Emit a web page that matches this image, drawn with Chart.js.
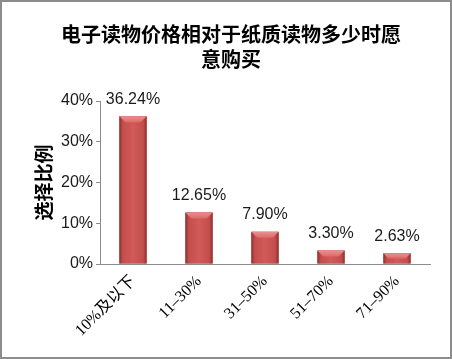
<!DOCTYPE html>
<html><head><meta charset="utf-8">
<script src="https://cdn.jsdelivr.net/npm/chart.js@4"></script>
<style>html,body{margin:0;padding:0;background:#fff}#w{width:452px;height:359px}</style>
</head><body><div id="w"><canvas id="c" width="452" height="359"></canvas></div>
<script>
const categories = ["10%及以下", "11–30%", "31–50%", "51–70%", "71–90%"];
const values = [36.24, 12.65, 7.90, 3.30, 2.63];
const valueLabels = ["36.24%", "12.65%", "7.90%", "3.30%", "2.63%"];
const yTicks = [0, 10, 20, 30, 40];
const titleLines = ["电子读物价格相对于纸质读物多少时愿", "意购买"];
const yTitle = "选择比例";

const frame = {
  id: 'frame',
  beforeDraw(chart) {
    const ctx = chart.ctx;
    ctx.save();
    ctx.fillStyle = '#fff';
    ctx.fillRect(0, 0, chart.width, chart.height);
    ctx.restore();
  },
  afterDraw(chart) {
    const ctx = chart.ctx;
    ctx.save();
    ctx.strokeStyle = '#8c8c8c';
    ctx.lineWidth = 2;
    ctx.strokeRect(1, 1, chart.width - 2, chart.height - 2);
    ctx.restore();
  }
};

const barStyle = {
  id: 'barStyle',
  afterDatasetsDraw(chart) {
    const ctx = chart.ctx;
    const meta = chart.getDatasetMeta(0);
    ctx.save();
    meta.data.forEach((bar, i) => {
      const l = bar.x - bar.width / 2, r = bar.x + bar.width / 2;
      const t = bar.y, b = bar.base;
      const g = ctx.createLinearGradient(l, 0, r, 0);
      g.addColorStop(0, '#8e2e2c');
      g.addColorStop(0.12, '#c24e4c');
      g.addColorStop(0.5, '#d25a59');
      g.addColorStop(0.88, '#c24e4c');
      g.addColorStop(1, '#8e2e2c');
      ctx.fillStyle = g;
      ctx.fillRect(l, t, r - l, b - t);
      // top bevel
      const bv = Math.min(6, (b - t) / 2);
      const g2 = ctx.createLinearGradient(0, t, 0, t + bv);
      g2.addColorStop(0, '#e89090');
      g2.addColorStop(1, '#dc6a69');
      ctx.beginPath();
      ctx.moveTo(l, t); ctx.lineTo(r, t); ctx.lineTo(r - bv, t + bv); ctx.lineTo(l + bv, t + bv); ctx.closePath();
      ctx.fillStyle = g2;
      ctx.fill();
      // label
      ctx.fillStyle = '#1a1a1a';
      ctx.font = '16px "Liberation Sans", Arial, sans-serif';
      ctx.textAlign = 'center';
      ctx.textBaseline = 'middle';
      ctx.fillText(valueLabels[i], bar.x, t - 17);
    });
    ctx.restore();
  }
};

new Chart(document.getElementById('c'), {
  type: 'bar',
  data: {
    labels: categories,
    datasets: [{
      data: values,
      backgroundColor: '#c24e4c',
      barPercentage: 0.75,
      categoryPercentage: 0.55
    }]
  },
  options: {
    responsive: false,
    animation: false,
    devicePixelRatio: 1,
    layout: { padding: { left: 32, right: 22, top: 0, bottom: 10 } },
    plugins: {
      legend: { display: false },
      tooltip: { enabled: false },
      title: {
        display: true,
        text: titleLines,
        color: '#000',
        font: { family: '"Noto Sans CJK SC", sans-serif', size: 20, weight: 'bold', lineHeight: 1.25 },
        padding: { top: 22, bottom: 29 }
      }
    },
    scales: {
      x: {
        grid: { display: false, drawTicks: false },
        border: { display: true, color: '#8c8c8c', width: 1 },
        ticks: {
          minRotation: 45, maxRotation: 45,
          color: '#000',
          padding: 8,
          font: { family: '"Liberation Serif", "Noto Sans CJK SC", serif', size: 16 }
        },
        afterFit(s) { s.height = 85; }
      },
      y: {
        min: 0, max: 40,
        afterBuildTicks(s) { s.ticks = yTicks.map(v => ({ value: v })); },
        grid: { display: true, drawOnChartArea: false, drawTicks: true, tickLength: 4, color: '#8c8c8c' },
        border: { display: true, color: '#8c8c8c', width: 1 },
        ticks: {
          color: '#1a1a1a',
          padding: 3,
          font: { family: '"Liberation Sans", Arial, sans-serif', size: 16 },
          callback: v => v + '%'
        },
        title: {
          display: true,
          text: yTitle,
          color: '#000',
          font: { family: '"Noto Sans CJK SC", serif', size: 19, weight: 'bold' },
          padding: { top: 0, bottom: 0 }
        },
        afterFit(s) { s.width = 68; }
      }
    }
  },
  plugins: [frame, barStyle]
});
</script>
</body></html>
